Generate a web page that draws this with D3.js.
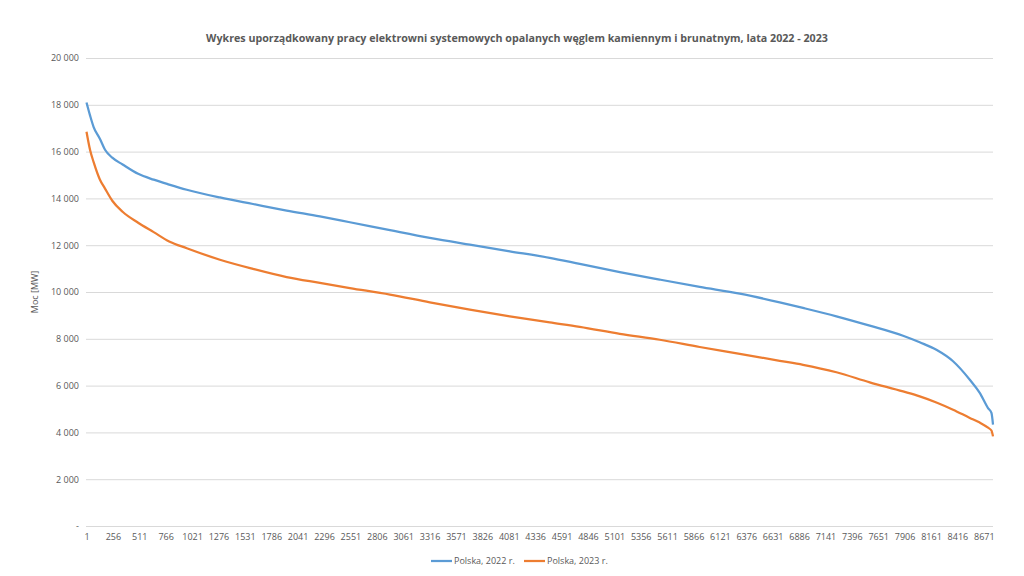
<!DOCTYPE html>
<html>
<head>
<meta charset="utf-8">
<script src="https://cdn.jsdelivr.net/npm/d3@7"></script>
<style>
  body { margin: 0; background: #fff; }
  svg { display: block; font-family: "Open Sans", "Liberation Sans", sans-serif; }
</style>
</head>
<body>
<div id="chart"></div>
<script>
// Data (hour of the year -> MW)
var hours       = [1, 35, 70, 130, 180, 250, 350, 500, 650, 800, 970, 1290, 1610, 1935, 2256, 2546, 2933, 3318,
                   3705, 4091, 4477, 4767, 5154, 5540, 5926, 6313, 6699, 6924, 7247, 7569, 7891, 8052, 8213,
                   8374, 8536, 8632, 8712, 8745, 8760];
var values2022  = [18100, 17550, 17050, 16550, 16080, 15740, 15450, 15050, 14800, 14590, 14370, 14040, 13760,
                   13480, 13230, 12980, 12640, 12310, 12020, 11740, 11460, 11200, 10850, 10530, 10220, 9930,
                   9560, 9320, 8960, 8560, 8130, 7850, 7530, 7040, 6250, 5690, 5040, 4830, 4330];
var values2023  = [16850, 16080, 15550, 14810, 14420, 13900, 13430, 12960, 12560, 12160, 11870, 11380, 10990,
                   10640, 10390, 10170, 9890, 9560, 9250, 8960, 8700, 8510, 8210, 7960, 7650, 7360, 7060, 6890,
                   6570, 6140, 5750, 5540, 5280, 4970, 4620, 4420, 4200, 4080, 3830];
var seriesNames = ["Polska, 2022 r.", "Polska, 2023 r."];
var xTicks      = d3.range(1, 8760, 255);            // 1, 256, 511 ... 8671
var yTicks      = [0, 2000, 4000, 6000, 8000, 10000, 12000, 14000, 16000, 18000, 20000];

var chart_width  = 1024;
var chart_height = 576;
var colors       = ["#5b9bd5", "#ed7d31"];
var textColor    = "#595959";

var x = d3.scaleLinear().domain([1, 8760]).range([86.5, 993]);
var y = d3.scaleLinear().domain([0, 20000]).range([526, 58]);

var svg = d3.select("#chart")
    .append("svg")
    .attr("width", chart_width)
    .attr("height", chart_height);

// Title
svg.append("text")
    .attr("x", 517)
    .attr("y", 42)
    .attr("text-anchor", "middle")
    .style("font-size", "10.7px")
    .style("font-weight", "bold")
    .style("fill", textColor)
    .text("Wykres uporządkowany pracy elektrowni systemowych opalanych węglem kamiennym i brunatnym, lata 2022 - 2023");

// Gridlines
svg.append("g")
    .selectAll("line")
    .data(yTicks)
    .enter()
    .append("line")
    .attr("x1", 86)
    .attr("x2", 993)
    .attr("y1", d => y(d) + 0.5)
    .attr("y2", d => y(d) + 0.5)
    .style("stroke", "#d9d9d9")
    .style("stroke-width", 1);

// Y axis labels
var yAxis = svg.append("g")
    .attr("transform", "translate(79,0)")
    .call(d3.axisLeft(y)
        .tickValues(yTicks)
        .tickSize(0)
        .tickPadding(0)
        .tickFormat(d => d === 0 ? "-" : d3.format(",")(d).replace(",", " ")));
yAxis.select(".domain").remove();
yAxis.selectAll("text")
    .style("font-size", "9px")
    .style("fill", textColor)
    .style("font-family", "'Open Sans', sans-serif");

// Y axis title
svg.append("text")
    .attr("transform", "translate(38,292) rotate(-90)")
    .attr("text-anchor", "middle")
    .style("font-size", "9px")
    .style("fill", textColor)
    .text("Moc [MW]");

// X axis labels
var xAxis = svg.append("g")
    .attr("transform", "translate(0,534)")
    .call(d3.axisBottom(x)
        .tickValues(xTicks)
        .tickSize(0)
        .tickPadding(0)
        .tickFormat(d3.format("d")));
xAxis.select(".domain").remove();
xAxis.selectAll("text")
    .style("font-size", "9px")
    .style("fill", textColor)
    .style("font-family", "'Open Sans', sans-serif");

// Lines
var line = d3.line()
    .x((d, i) => x(hours[i]))
    .y(d => y(d))
    .curve(d3.curveMonotoneX);

[values2022, values2023].forEach(function(vals, i) {
    svg.append("path")
        .datum(vals)
        .attr("d", line)
        .style("fill", "none")
        .style("stroke", colors[i])
        .style("stroke-width", 2.25)
        .style("stroke-linejoin", "round");
});

// Legend
var legendX = [431, 524];
var legend = svg.append("g")
    .selectAll("g")
    .data(seriesNames)
    .enter()
    .append("g")
    .attr("transform", (d, i) => "translate(" + legendX[i] + ",561)");

legend.append("line")
    .attr("x1", 0)
    .attr("x2", 21)
    .style("stroke", (d, i) => colors[i])
    .style("stroke-width", 2.25);

legend.append("text")
    .attr("x", 23)
    .attr("y", 3)
    .style("font-size", "9px")
    .style("fill", textColor)
    .text(d => d);
</script>
</body>
</html>
